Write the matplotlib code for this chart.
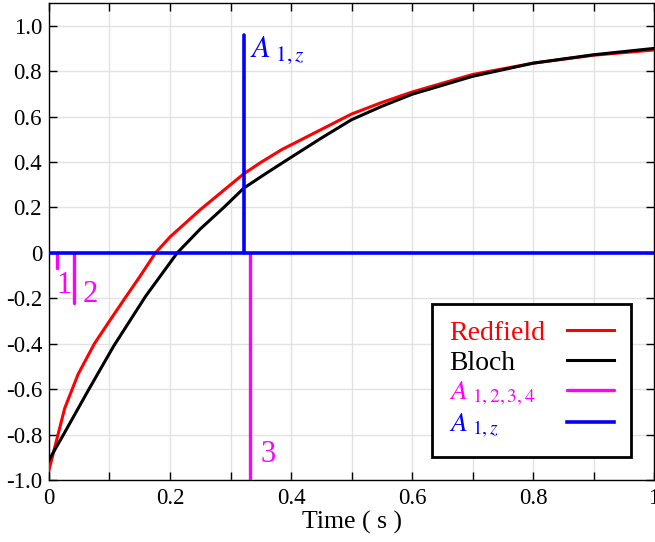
import matplotlib
matplotlib.use("Agg")
import matplotlib.pyplot as plt
from matplotlib.ticker import MultipleLocator, FuncFormatter

plt.rcParams['font.family'] = ['Liberation Serif', 'DejaVu Serif']
plt.rcParams['mathtext.fontset'] = 'stix'

# --- Data ---
t_redfield = [0, 0.026, 0.048, 0.075, 0.1, 0.128, 0.15, 0.176, 0.2, 0.25, 0.3,
              0.322, 0.35, 0.385, 0.45, 0.5, 0.55, 0.6, 0.7, 0.8, 0.9, 1.0]
mz_redfield = [-0.956, -0.684, -0.535, -0.40, -0.30, -0.19, -0.105, 0.0, 0.07, 0.19, 0.30,
               0.348, 0.398, 0.455, 0.543, 0.611, 0.662, 0.708, 0.785, 0.835, 0.87, 0.893]

t_bloch = [0, 0.024, 0.065, 0.107, 0.16, 0.212, 0.25, 0.289, 0.322, 0.36, 0.398,
           0.45, 0.5, 0.55, 0.6, 0.7, 0.8, 0.9, 1.0]
mz_bloch = [-0.912, -0.80, -0.605, -0.41, -0.19, 0.0, 0.105, 0.20, 0.285, 0.352, 0.417,
            0.505, 0.586, 0.645, 0.698, 0.777, 0.835, 0.872, 0.90]

# A_{1,2,3,4} sticks (magenta) and A_{1,z} stick (blue)
stick_t = [0.0127, 0.041, 0.332]
stick_h = [-0.067, -0.22, -1.0]
stick_names = ['1', '2', '3']
az_t = 0.322
az_h = 0.957

# --- Plotting ---
fig = plt.figure(figsize=(6.55, 5.42), dpi=100)
ax = fig.add_axes([0.0748, 0.1144, 0.9237, 0.8801])

ax.plot(t_redfield, mz_redfield, color='red', lw=2.2, label='Redfield', zorder=3)
ax.plot(t_bloch, mz_bloch, color='black', lw=2.2, label='Bloch', zorder=4)

for i, (t, h) in enumerate(zip(stick_t, stick_h)):
    ax.plot([t, t], [0, h], color='magenta', lw=2.4, solid_capstyle='round',
            label=r'$A_{\ 1,2,3,4}$' if i == 0 else None, zorder=5)

ax.axhline(0, color='blue', lw=2.6, label=r'$A_{\ 1,z}$', zorder=6)
ax.plot([az_t, az_t], [0, az_h], color='blue', lw=2.6, solid_capstyle='round', zorder=6)

# stick annotations
ax.text(0.013, -0.176, stick_names[0], color='magenta', fontsize=22)
ax.text(0.056, -0.216, stick_names[1], color='magenta', fontsize=22)
ax.text(0.349, -0.92, stick_names[2], color='magenta', fontsize=22)
ax.text(0.332, 0.863, r'$A_{\ 1,z}$', color='blue', fontsize=22)

ax.set_xlim(0, 1)
ax.set_ylim(-1.0, 1.1)
ax.xaxis.set_major_locator(MultipleLocator(0.1))
ax.yaxis.set_major_locator(MultipleLocator(0.2))


def xfmt(v, pos):
    k = int(round(v * 10))
    if k % 2:
        return ''
    if k == 0:
        return '0'
    if k == 10:
        return '1'
    return '%.1f' % v


def yfmt(v, pos):
    if abs(v) < 1e-9:
        return '0'
    return '%.1f' % v


ax.xaxis.set_major_formatter(FuncFormatter(xfmt))
ax.yaxis.set_major_formatter(FuncFormatter(yfmt))
ax.tick_params(direction='in', top=True, right=True, length=6, width=1,
               labelsize=16.5)
ax.tick_params(axis='y', pad=5)
ax.tick_params(axis='x', pad=6)
ax.grid(True, color='#e2e2e2', lw=1)
ax.set_axisbelow(True)
for s in ax.spines.values():
    s.set_linewidth(1)

ax.set_xlabel('Time ( s )', fontsize=18.5, labelpad=1)

leg = ax.legend(loc='lower right', bbox_to_anchor=(0.962, 0.048), borderaxespad=0,
                markerfirst=False, fontsize=20, frameon=True, fancybox=False,
                edgecolor='black', framealpha=1, handlelength=1.7,
                labelspacing=0.15, borderpad=0.6, handletextpad=0.8)
leg.get_frame().set_linewidth(2)
for txt, c in zip(leg.get_texts(), ['red', 'black', 'magenta', 'blue']):
    txt.set_color(c)

# left-align the legend labels while keeping handles in a right column
fig.canvas.draw()
widths = [t.get_window_extent().width for t in leg.get_texts()]
column = leg._legend_handle_box.get_children()[0]
column.align = 'left'
for row, w in zip(column.get_children(), widths):
    row.sep += (max(widths) - w) * 72 / fig.dpi

plt.savefig('out.png', dpi=100)
